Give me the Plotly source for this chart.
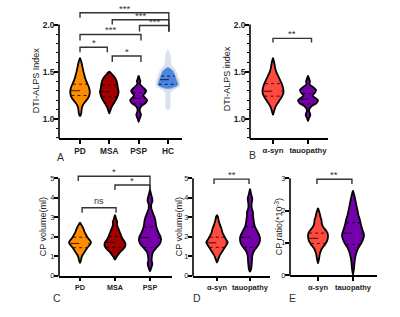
import numpy as np
import plotly.graph_objects as go

W, H = 400, 317
FONT = "Liberation Sans, Arial, sans-serif"
TXT = "#222222"

# ---------------- data ----------------
A_groups = ["PD", "MSA", "PSP", "HC"]
B_groups = ["α-syn", "tauopathy"]
C_groups = ["PD", "MSA", "PSP"]

# violin density profiles: value levels and relative density (half width)
A_PD_y = [1.03, 1.06, 1.10, 1.14, 1.18, 1.22, 1.26, 1.30, 1.34, 1.38, 1.42, 1.46, 1.50, 1.55, 1.60, 1.65]
A_PD_d = [0, 1.2, 1.6, 2.5, 5, 8, 9.5, 9.7, 8.8, 7.2, 5.6, 4.5, 3.5, 2.5, 1.5, 0]
A_PD_q = [1.25, 1.30, 1.37]

A_MSA_y = [1.06, 1.09, 1.12, 1.16, 1.20, 1.25, 1.29, 1.33, 1.37, 1.41, 1.44, 1.47, 1.49, 1.50]
A_MSA_d = [0, 1, 2, 4, 6.5, 8.5, 9.3, 8.5, 8, 7, 5.5, 3, 1.5, 0]
A_MSA_q = [1.235, 1.29, 1.36]

A_PSP_y = [0.97, 1.00, 1.03, 1.05, 1.08, 1.11, 1.14, 1.17, 1.20, 1.23, 1.25, 1.27, 1.30, 1.33, 1.36, 1.38, 1.40, 1.42, 1.46]
A_PSP_d = [0, 0.8, 2, 2.3, 1.2, 1.2, 3, 7, 8.5, 6, 4.5, 6, 7.5, 5, 2, 1.2, 1.8, 1.2, 0]
A_PSP_q = [1.16, 1.22, 1.28]

A_HC_y = [1.32, 1.33, 1.35, 1.37, 1.39, 1.42, 1.45, 1.48, 1.51, 1.53, 1.55]
A_HC_d = [0, 4, 9, 10, 9.5, 8.5, 7.5, 6.5, 5, 3, 0]
A_HC_q = [1.368, 1.417, 1.455]
A_HC_pts_y = [1.09, 1.12, 1.20, 1.28, 1.31, 1.35, 1.40, 1.46, 1.52, 1.57, 1.62, 1.68, 1.75]
A_HC_pts_d = [0, 2.5, 2.5, 3, 6, 12, 12, 10, 8, 4, 3, 2.5, 0]

B_AS_y = [1.045, 1.08, 1.11, 1.15, 1.19, 1.23, 1.27, 1.30, 1.34, 1.38, 1.42, 1.46, 1.50, 1.55, 1.60, 1.65]
B_AS_d = [0, 1, 1.8, 3.5, 6, 8.5, 10.3, 10.5, 9.8, 8.5, 6.8, 5, 3.2, 2, 1.2, 0]
B_AS_q = [1.243, 1.295, 1.375]

B_TAU_y = [0.98, 1.01, 1.04, 1.06, 1.08, 1.11, 1.14, 1.17, 1.20, 1.23, 1.25, 1.28, 1.31, 1.34, 1.36, 1.38, 1.40, 1.42, 1.46]
B_TAU_d = [0, 1, 2.3, 2, 1.2, 1.5, 4, 8.5, 10, 6.5, 4.5, 7, 8, 5, 2, 1.5, 2, 1.3, 0]
B_TAU_q = [1.16, 1.21, 1.27]

C_PD_y = [0.64, 0.8, 1.0, 1.2, 1.4, 1.6, 1.7, 1.8, 1.95, 2.1, 2.25, 2.4, 2.55, 2.73]
C_PD_d = [0, 1, 2, 4.5, 7, 10, 11, 10, 7.5, 6, 4.5, 3.5, 2, 0]
C_PD_q = [1.43, 1.65, 1.97]

C_MSA_y = [0.82, 0.95, 1.1, 1.25, 1.4, 1.55, 1.7, 1.85, 2.0, 2.2, 2.4, 2.6, 2.75, 2.9, 3.12]
C_MSA_d = [0, 1.5, 3.5, 6, 9, 10.5, 10, 8, 6.5, 5, 3.5, 2, 2.2, 1.2, 0]
C_MSA_q = [1.45, 1.7, 2.0]

C_PSP_y = [0.22, 0.4, 0.6, 0.8, 1.0, 1.2, 1.4, 1.6, 1.8, 2.0, 2.2, 2.4, 2.6, 2.8, 3.0, 3.2, 3.45, 3.65, 3.85, 4.0, 4.2, 4.4]
C_PSP_d = [0, 1.3, 2.3, 1.6, 2, 3, 6, 9.5, 11, 10.5, 8.5, 7, 6, 5.5, 4.5, 3, 1.3, 1.3, 2.5, 2, 1, 0]
C_PSP_q = [1.45, 1.95, 2.5]

D_AS_y = [0.67, 0.8, 0.95, 1.1, 1.3, 1.5, 1.7, 1.85, 2.0, 2.2, 2.4, 2.6, 2.8, 3.0, 3.12]
D_AS_d = [0, 1, 2, 3.5, 6, 8.5, 10.7, 9, 7.5, 5.5, 4.5, 3, 1.8, 1, 0]
D_AS_q = [1.45, 1.68, 1.97]

D_TAU_y = [0.2, 0.35, 0.5, 0.65, 0.8, 1.0, 1.1, 1.3, 1.5, 1.7, 1.9, 2.1, 2.3, 2.5, 2.7, 2.9, 3.1, 3.25, 3.4, 3.57, 3.75, 3.95, 4.15, 4.46]
D_TAU_d = [0, 1.2, 1.5, 1.8, 2, 2.3, 2.7, 4.5, 7.5, 9.5, 10, 9, 7, 5, 4, 3.5, 3, 3, 2, 1.5, 1.8, 2.3, 1.3, 0]
D_TAU_q = [1.45, 1.97, 2.5]

E_AS_y = [0.37, 0.5, 0.65, 0.8, 0.95, 1.05, 1.2, 1.3, 1.4, 1.5, 1.6, 1.7, 1.8, 1.9, 2.08]
E_AS_d = [0, 1, 1.8, 3.5, 7, 9, 10, 9.5, 7.5, 5, 3.8, 3.5, 2.5, 1.8, 0]
E_AS_q = [0.98, 1.14, 1.3]

E_TAU_y = [0, 0.2, 0.35, 0.5, 0.7, 0.85, 1.0, 1.15, 1.25, 1.4, 1.55, 1.7, 1.85, 2.0, 2.15, 2.3, 2.45, 2.62]
E_TAU_d = [0, 1, 1.4, 2, 3.5, 5.5, 8.5, 10.5, 11, 9.5, 8, 7, 5.5, 4.5, 3.5, 2.5, 1.5, 0]
E_TAU_q = [0.95, 1.3, 1.62]

# significance comparisons: (group_i, group_j, label)
A_sig = [("PD", "HC", "***"), ("MSA", "HC", "***"), ("PSP", "HC", "***"),
         ("PD", "PSP", "***"), ("PD", "MSA", "*"), ("MSA", "PSP", "*")]
B_sig = [("α-syn", "tauopathy", "**")]
C_sig = [("PD", "PSP", "*"), ("MSA", "PSP", "*"), ("PD", "MSA", "ns")]
D_sig = [("α-syn", "tauopathy", "**")]
E_sig = [("α-syn", "tauopathy", "**")]

A_yticks = [1.0, 1.5, 2.0]
A_yminor = [0.8, 0.9, 1.1, 1.2, 1.3, 1.4, 1.6, 1.7, 1.8, 1.9]
C_yticks = [0, 1, 2, 3, 4, 5]
E_yticks = [0, 1, 2, 3]

# ---------------- layout geometry (pixels) ----------------
# bracket placement: (top, left drop end, right drop end, left offset, right offset)
A_br = [(2.125, 2.073, 1.927, 0, 0.03), (2.052, 2.0, 1.927, 0.1, 0.03), (1.99, 1.927, 1.927, 0.03, 0.03),
        (1.896, 1.833, 1.833, 0, 0.08), (1.76, 1.708, 1.708, 0, -0.07), (1.667, 1.604, 1.604, 0.1, 0.08)]
B_br = [(1.854, 1.81, 1.81, 0, 0.1)]
C_br = [(5.1, 4.85, 4.39, -0.05, 0), (4.65, 4.39, 4.39, 0, 0), (3.48, 3.23, 3.23, 0.06, 0.03)]
D_br = [(4.95, 4.7, 4.7, -0.09, -0.03)]
E_br = [(2.97, 2.82, 2.82, -0.03, -0.03)]

panels = [
    dict(s="", xpx=(59, 182), xr=(-0.717, 3.48), ypx=(140.2, 11.56), yr=(0.8, 2.14), ppu=29.3,
         cats=A_groups, ticks=A_yticks, tickfmt="{:.1f}", minor=A_yminor, ytop=2.0,
         title="DTI-ALPS Index", tpos=(35.5, 82), lab="A", lpos=(60, 160), sig=A_sig, br=A_br,
         cfont=8.3, yfont=8.3, ybold=True),
    dict(s="2", xpx=(250, 328), xr=(-0.657, 1.571), ypx=(140.2, 11.56), yr=(0.8, 2.14), ppu=35,
         cats=B_groups, ticks=A_yticks, tickfmt="{:.1f}", minor=A_yminor, ytop=2.0,
         title="DTI-ALPS index", tpos=(226.5, 80), lab="B", lpos=(252, 157), sig=B_sig, br=B_br,
         cfont=7.8, yfont=8.3, ybold=True),
    dict(s="3", xpx=(59, 172), xr=(-0.6, 2.629), ypx=(280, 171.1), yr=(0, 5.5), ppu=35,
         cats=C_groups, ticks=C_yticks, tickfmt="{:d}", minor=None, ytop=5,
         title="CP volume(ml)", tpos=(43, 231), lab="C", lpos=(57, 303), sig=C_sig, br=C_br,
         cfont=7.2, yfont=7.5, ybold=False),
    dict(s="4", xpx=(193, 270), xr=(-0.727, 1.606), ypx=(280, 171.1), yr=(0, 5.5), ppu=33,
         cats=B_groups, ticks=C_yticks, tickfmt="{:d}", minor=None, ytop=5,
         title="CP volume(ml)", tpos=(179, 231), lab="D", lpos=(197, 303), sig=D_sig, br=D_br,
         cfont=7.5, yfont=7.5, ybold=False),
    dict(s="5", xpx=(290, 377), xr=(-0.8, 1.686), ypx=(279.5, 171.26), yr=(0, 3.3), ppu=35,
         cats=B_groups, ticks=E_yticks, tickfmt="{:d}", minor=None, ytop=3,
         title="CP ratio(*10<sup>-3</sup>)", tpos=(279, 231), lab="E", lpos=(292, 303), sig=E_sig, br=E_br,
         cfont=7.5, yfont=7.5, ybold=False),
]

# violins: (panel index, group, y, density, quartiles, fill, outline)
ORANGE, DRED, PURPLE, BLUE = "#FF8C00", "#A30000", "#7800A8", "#4A86E0"
CORAL, TAU = "#FF4A3D", "#7400AC"
violins = [
    (0, "PD", A_PD_y, A_PD_d, A_PD_q, ORANGE, "black"),
    (0, "MSA", A_MSA_y, A_MSA_d, A_MSA_q, DRED, "black"),
    (0, "PSP", A_PSP_y, A_PSP_d, A_PSP_q, PURPLE, "black"),
    (0, "HC", A_HC_pts_y, A_HC_pts_d, None, "rgba(175,188,215,0.45)", None),
    (0, "HC", A_HC_y, A_HC_d, A_HC_q, BLUE, "rgba(120,160,230,0.9)"),
    (1, "α-syn", B_AS_y, B_AS_d, B_AS_q, CORAL, "black"),
    (1, "tauopathy", B_TAU_y, B_TAU_d, B_TAU_q, TAU, "black"),
    (2, "PD", C_PD_y, C_PD_d, C_PD_q, ORANGE, "black"),
    (2, "MSA", C_MSA_y, C_MSA_d, C_MSA_q, DRED, "black"),
    (2, "PSP", C_PSP_y, C_PSP_d, C_PSP_q, PURPLE, "black"),
    (3, "α-syn", D_AS_y, D_AS_d, D_AS_q, CORAL, "black"),
    (3, "tauopathy", D_TAU_y, D_TAU_d, D_TAU_q, TAU, "black"),
    (4, "α-syn", E_AS_y, E_AS_d, E_AS_q, CORAL, "black"),
    (4, "tauopathy", E_TAU_y, E_TAU_d, E_TAU_q, TAU, "black"),
]

fig = go.Figure()
layout = dict(width=W, height=H, margin=dict(l=0, r=0, t=0, b=0),
              paper_bgcolor="white", plot_bgcolor="white", showlegend=False,
              font=dict(family=FONT, color=TXT))
shapes, annotations = [], []

for p in panels:
    s = p["s"]
    xd = [p["xpx"][0] / W, p["xpx"][1] / W]
    yd = [1 - p["ypx"][0] / H, 1 - p["ypx"][1] / H]
    ticktext = [("<b>%s</b>" % c) for c in p["cats"]]
    layout["xaxis" + s] = dict(domain=xd, range=list(p["xr"]), anchor="y" + s,
                               tickvals=list(range(len(p["cats"]))), ticktext=ticktext,
                               ticks="outside", ticklen=4, tickwidth=1.5, tickcolor="black",
                               showline=True, linewidth=1.6, linecolor="black",
                               showgrid=False, zeroline=False, fixedrange=True,
                               tickfont=dict(size=p["cfont"], family=FONT, color=TXT))
    yt = [p["tickfmt"].format(v) for v in p["ticks"]]
    if p["ybold"]:
        yt = ["<b>%s</b>" % t for t in yt]
    ya = dict(domain=yd, range=list(p["yr"]), anchor="x" + s,
              tickvals=p["ticks"], ticktext=yt, ticks="outside", ticklen=4, tickwidth=1.5,
              tickcolor="black", showline=False, showgrid=False, zeroline=False, fixedrange=True,
              ticklabelstandoff=-2,
              tickfont=dict(size=p["yfont"], family=FONT, color=TXT))
    if p["minor"]:
        ya["minor"] = dict(tickmode="array", tickvals=p["minor"], ticks="outside", ticklen=2.5,
                           tickwidth=1.2, tickcolor="black")
    layout["yaxis" + s] = ya
    # y axis line only up to the top tick
    ytop_paper = yd[0] + (p["ytop"] - p["yr"][0]) / (p["yr"][1] - p["yr"][0]) * (yd[1] - yd[0])
    shapes.append(dict(type="line", xref="paper", yref="paper", x0=xd[0], x1=xd[0],
                       y0=yd[0] - 0.8 / H, y1=ytop_paper, line=dict(color="black", width=1.6)))
    # titles and panel labels
    annotations.append(dict(xref="paper", yref="paper", x=p["tpos"][0] / W, y=1 - p["tpos"][1] / H,
                            text=p["title"], textangle=-90, showarrow=False,
                            font=dict(size=9, family=FONT, color=TXT), xanchor="center", yanchor="middle"))
    annotations.append(dict(xref="paper", yref="paper", x=p["lpos"][0] / W, y=1 - p["lpos"][1] / H,
                            text=p["lab"], showarrow=False,
                            font=dict(size=10.5, family=FONT, color="#333"), xanchor="center", yanchor="middle"))
    # significance brackets
    for (gi, gj, lab), (yt_, yl, yr_, dl, dr) in zip(p["sig"], p["br"]):
        xi = p["cats"].index(gi) + dl
        xj = p["cats"].index(gj) + dr
        fig.add_trace(go.Scatter(x=[xi, xi, xj, xj], y=[yl, yt_, yt_, yr_], mode="lines",
                                 line=dict(color="#333333", width=1.4), xaxis="x" + s, yaxis="y" + s,
                                 hoverinfo="skip"))
        annotations.append(dict(xref="x" + s, yref="y" + s, x=(xi + xj) / 2, y=yt_, text=lab,
                                showarrow=False, xanchor="center", yanchor="bottom",
                                yshift=(0 if lab == "ns" else -3),
                                font=dict(size=9 if lab == "ns" else 9.5, family=FONT, color="#333")))

for (pi, g, yv, dv, q, fill, outline) in violins:
    p = panels[pi]
    s = p["s"]
    pos = p["cats"].index(g)
    yv = np.asarray(yv, float)
    half = np.asarray(dv, float) / p["ppu"]
    xs = np.concatenate([pos + half, (pos - half)[::-1]])
    ys = np.concatenate([yv, yv[::-1]])
    fig.add_trace(go.Scatter(x=xs, y=ys, mode="lines", fill="toself", fillcolor=fill,
                             line=dict(color=outline if outline else "rgba(0,0,0,0)",
                                       width=1.8 if outline == "black" else 0.8,
                                       shape="spline", smoothing=0.7),
                             xaxis="x" + s, yaxis="y" + s, hoverinfo="skip"))
    if q:
        for k, qv in enumerate(q):
            w = np.interp(qv, yv, half) * 0.93
            fig.add_trace(go.Scatter(x=[pos - w, pos + w], y=[qv, qv], mode="lines",
                                     line=dict(color="black", width=0.8, dash="dash" if k == 1 else "dot"),
                                     xaxis="x" + s, yaxis="y" + s, hoverinfo="skip"))

layout["shapes"] = shapes
layout["annotations"] = annotations
fig.update_layout(**layout)
fig.write_html("out.html", config={"displayModeBar": False},
               post_script="document.body.style.margin='0';document.body.style.overflow='hidden';")
